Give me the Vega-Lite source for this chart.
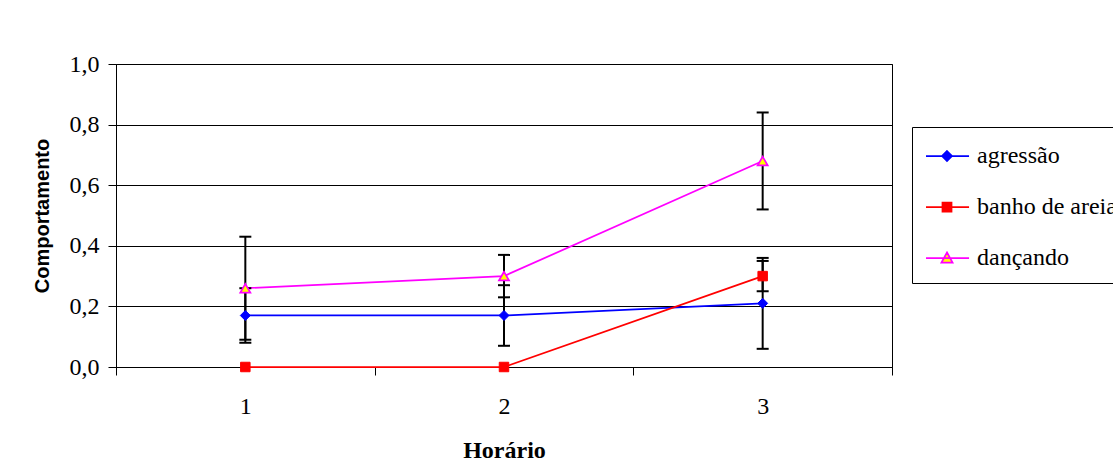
{
  "$schema": "https://vega.github.io/schema/vega-lite/v6.json",
  "width": 776,
  "height": 303,
  "autosize": {"type": "none"},
  "padding": {"left": 116, "top": 64, "right": 221, "bottom": 108},
  "background": "white",
  "data": {
    "values": [
      {"hora": "1", "serie": "agressão", "valor": 0.17, "lo": 0.08, "hi": 0.26},
      {"hora": "2", "serie": "agressão", "valor": 0.17, "lo": 0.07, "hi": 0.27},
      {"hora": "3", "serie": "agressão", "valor": 0.21, "lo": 0.06, "hi": 0.36},
      {"hora": "1", "serie": "banho de areia", "valor": 0.0, "lo": null, "hi": null},
      {"hora": "2", "serie": "banho de areia", "valor": 0.0, "lo": null, "hi": null},
      {"hora": "3", "serie": "banho de areia", "valor": 0.30, "lo": 0.25, "hi": 0.35},
      {"hora": "1", "serie": "dançando", "valor": 0.26, "lo": 0.09, "hi": 0.43},
      {"hora": "2", "serie": "dançando", "valor": 0.30, "lo": 0.23, "hi": 0.37},
      {"hora": "3", "serie": "dançando", "valor": 0.68, "lo": 0.52, "hi": 0.84}
    ]
  },
  "encoding": {
    "x": {
      "field": "hora",
      "type": "ordinal",
      "scale": {"paddingInner": 0, "paddingOuter": 0},
      "axis": {
        "title": "Horário",
        "labelAngle": 0,
        "tickBand": "extent",
        "grid": false,
        "domainColor": "black",
        "tickColor": "black",
        "tickSize": 8,
        "labelPadding": 19,
        "titleFontWeight": "bold",
        "titleFontSize": 24,
        "titlePadding": 20
      }
    }
  },
  "layer": [
    {
      "mark": {"type": "line", "strokeWidth": 1.75},
      "encoding": {
        "y": {
          "field": "valor",
          "type": "quantitative",
          "title": "Comportamento",
          "scale": {"domain": [0, 1]},
          "axis": {
            "title": "Comportamento",
            "values": [0, 0.2, 0.4, 0.6, 0.8, 1.0],
            "labelExpr": "replace(format(datum.value, '.1f'), '.', ',')",
            "grid": true,
            "gridColor": "black",
            "gridOpacity": 1,
            "domainColor": "black",
            "tickColor": "black",
            "tickSize": 8,
            "labelPadding": 9,
            "titleFont": "Liberation Sans",
            "titleFontSize": 20,
            "titleFontWeight": "bold",
            "titlePadding": 17
          }
        },
        "color": {
          "field": "serie",
          "type": "nominal",
          "scale": {
            "domain": ["agressão", "banho de areia", "dançando"],
            "range": ["#0000FF", "#FF0000", "#FF00FF"]
          },
          "legend": {
            "title": null,
            "orient": "none",
            "legendX": 796,
            "legendY": 63,
            "strokeColor": "black",
            "padding": 13,
            "rowPadding": 23,
            "labelOffset": 20,
            "symbolSize": 900,
            "symbolStrokeWidth": 1.75,
            "labelLimit": 300,
            "encode": {
              "symbols": {
                "update": {
                  "shape": {"signal": "datum.value === 'agressão' ? 'M-1,0H1.87M0.4,-0.33L0.73,0L0.4,0.33L0.07,0Z' : datum.value === 'banho de areia' ? 'M-1,0H1.87M0.1,-0.3H0.7V0.3H0.1Z' : 'M-1,0H1.87M0.4,-0.37L0.77,0.3L0.03,0.3Z'"},
                  "fill": {"signal": "datum.value === 'agressão' ? '#0000FF' : datum.value === 'banho de areia' ? '#FF0000' : '#FFFF00'"},
                  "stroke": {"signal": "datum.value === 'agressão' ? '#0000FF' : datum.value === 'banho de areia' ? '#FF0000' : '#FF00FF'"},
                  "strokeWidth": {"value": 1.75},
                  "opacity": {"value": 1}
                }
              }
            }
          }
        }
      }
    },
    {
      "transform": [{"filter": "datum.lo != null"}],
      "mark": {"type": "rule", "color": "black", "strokeWidth": 2},
      "encoding": {
        "y": {"field": "lo", "type": "quantitative", "title": "Comportamento"},
        "y2": {"field": "hi"}
      }
    },
    {
      "transform": [{"filter": "datum.lo != null"}],
      "mark": {"type": "tick", "color": "black", "thickness": 2, "size": 12, "opacity": 1},
      "encoding": {
        "y": {"field": "lo", "type": "quantitative", "title": "Comportamento"}
      }
    },
    {
      "transform": [{"filter": "datum.hi != null"}],
      "mark": {"type": "tick", "color": "black", "thickness": 2, "size": 12, "opacity": 1},
      "encoding": {
        "y": {"field": "hi", "type": "quantitative", "title": "Comportamento"}
      }
    },
    {
      "transform": [{"filter": "datum.serie === 'agressão'"}],
      "mark": {"type": "point", "shape": "diamond", "filled": true, "opacity": 1, "size": 100, "fill": "#0000FF", "stroke": "#0000FF", "strokeWidth": 1},
      "encoding": {
        "y": {"field": "valor", "type": "quantitative", "title": "Comportamento"}
      }
    },
    {
      "transform": [{"filter": "datum.serie === 'banho de areia'"}],
      "mark": {"type": "point", "shape": "square", "filled": true, "opacity": 1, "size": 90, "fill": "#FF0000", "stroke": "#FF0000", "strokeWidth": 1},
      "encoding": {
        "y": {"field": "valor", "type": "quantitative", "title": "Comportamento"}
      }
    },
    {
      "transform": [{"filter": "datum.serie === 'dançando'"}],
      "mark": {"type": "point", "shape": "triangle-up", "filled": true, "opacity": 1, "size": 100, "fill": "#FFFF00", "stroke": "#FF00FF", "strokeWidth": 1.75},
      "encoding": {
        "y": {"field": "valor", "type": "quantitative", "title": "Comportamento"}
      }
    }
  ],
  "config": {
    "font": "Liberation Serif",
    "view": {"stroke": "black", "strokeWidth": 1},
    "axis": {
      "labelFont": "Liberation Serif",
      "labelFontSize": 24,
      "labelColor": "black",
      "titleFont": "Liberation Serif",
      "titleFontSize": 22,
      "titleColor": "black"
    },
    "legend": {
      "labelFont": "Liberation Serif",
      "labelFontSize": 24,
      "labelColor": "black"
    }
  }
}
